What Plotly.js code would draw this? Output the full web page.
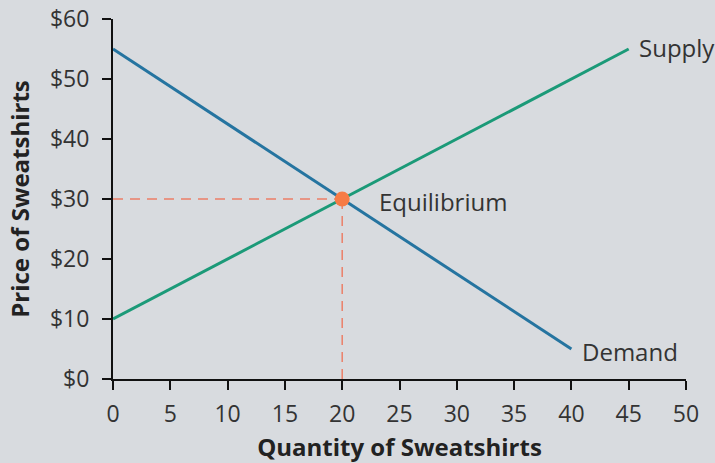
<!DOCTYPE html>
<html><head><meta charset="utf-8">
<script src="https://cdn.plot.ly/plotly-3.0.1.min.js"></script>
<style>html,body{margin:0;padding:0;background:#d8dbdf;}</style>
</head><body>
<div id="chart" style="width:715px;height:463px;"></div>
<script>
const supplyQ = [0, 45];
const supplyP = [10, 55];
const demandQ = [0, 40];
const demandP = [55, 5];
const eqQ = [20];
const eqP = [30];
const xTicks = [0, 5, 10, 15, 20, 25, 30, 35, 40, 45, 50];
const yTicks = [0, 10, 20, 30, 40, 50, 60];
const yTickText = ['$0', '$10', '$20', '$30', '$40', '$50', '$60'];

const font = 'Open Sans, Noto Sans, sans-serif';
const traces = [
  {x: [0, eqQ[0]], y: [eqP[0], eqP[0]], mode: 'lines', line: {color: '#ec7f68', width: 1.5, dash: '10px,7px'}, hoverinfo: 'skip'},
  {x: [eqQ[0], eqQ[0]], y: [0, eqP[0]], mode: 'lines', line: {color: '#ec7f68', width: 1.5, dash: '10px,7px'}, hoverinfo: 'skip'},
  {x: supplyQ, y: supplyP, mode: 'lines', line: {color: '#1b9a78', width: 3}, name: 'Supply'},
  {x: demandQ, y: demandP, mode: 'lines', line: {color: '#2574a0', width: 3}, name: 'Demand'},
  {x: eqQ, y: eqP, mode: 'markers', marker: {color: '#f77b45', size: 15}, name: 'Equilibrium'}
];
const layout = {
  width: 715, height: 463,
  paper_bgcolor: '#d8dbdf', plot_bgcolor: '#d8dbdf',
  margin: {l: 113, r: 29, t: 19, b: 84},
  showlegend: false,
  font: {family: font, color: '#222', size: 20},
  xaxis: {range: [0, 50], tickvals: xTicks, showgrid: false, zeroline: false,
    showline: true, linecolor: '#111', linewidth: 2, ticks: 'outside', ticklen: 9, tickwidth: 2, tickcolor: '#111',
    ticklabelstandoff: 4,
    tickfont: {size: 23, color: '#333'},
    title: {text: '<b>Quantity of Sweatshirts</b>', font: {size: 24, color: '#222'}, standoff: 14}},
  yaxis: {range: [0, 60], tickvals: yTicks, ticktext: yTickText, showgrid: false, zeroline: false,
    showline: true, linecolor: '#111', linewidth: 2, ticks: 'outside', ticklen: 9, tickwidth: 2, tickcolor: '#111',
    ticklabelstandoff: 8,
    tickfont: {size: 23, color: '#333'},
    title: {text: '<b>Price of Sweatshirts</b>', font: {size: 24, color: '#222'}, standoff: 14}},
  annotations: [
    {x: supplyQ[1], y: supplyP[1], text: 'Supply', showarrow: false, xanchor: 'left', xshift: 8, yshift: 2, font: {size: 24, color: '#333'}},
    {x: demandQ[1], y: demandP[1], text: 'Demand', showarrow: false, xanchor: 'left', xshift: 9, yshift: -2, font: {size: 24, color: '#333'}},
    {x: eqQ[0], y: eqP[0], text: 'Equilibrium', showarrow: false, xanchor: 'left', xshift: 35, yshift: -2, font: {size: 24, color: '#333'}}
  ]
};
Plotly.newPlot('chart', traces, layout, {displayModeBar: false, staticPlot: true});
</script>
</body></html>
